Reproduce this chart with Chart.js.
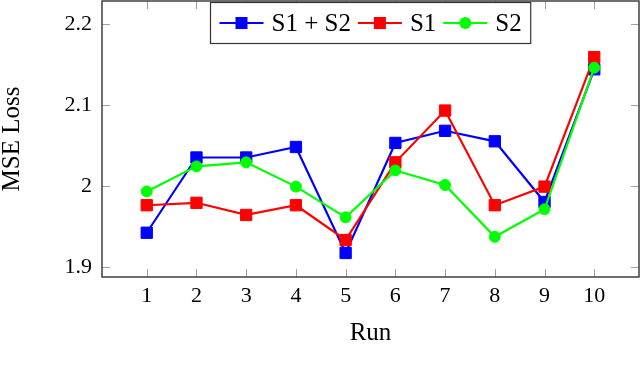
<!DOCTYPE html>
<html>
<head>
<meta charset="utf-8">
<script src="https://cdn.jsdelivr.net/npm/chart.js@4.4.1/dist/chart.umd.min.js"></script>
<style>
  html, body { margin: 0; padding: 0; background: #fff; }
  #wrap { width: 640px; height: 372px; }
</style>
</head>
<body>
<div id="wrap"><canvas id="lossChart" width="640" height="372"></canvas></div>
<script>
// values
const runs = [1, 2, 3, 4, 5, 6, 7, 8, 9, 10];
const lossS1S2 = [1.942, 2.035, 2.035, 2.048, 1.917, 2.053, 2.068, 2.055, 1.980, 2.144];
const lossS1 = [1.976, 1.979, 1.964, 1.976, 1.933, 2.029, 2.093, 1.976, 1.999, 2.159];
const lossS2 = [1.993, 2.024, 2.029, 1.999, 1.961, 2.019, 2.001, 1.937, 1.971, 2.146];
const yTicks = [1.9, 2, 2.1, 2.2];
const yTickLabels = ['1.9', '2', '2.1', '2.2'];
const seriesNames = ['S1 + S2', 'S1', 'S2'];

const serif = '"Liberation Serif", "DejaVu Serif", serif';

function toPoints(vals) {
    return runs.map((r, i) => ({ x: r, y: vals[i] }));
}

// frame, inward tick marks
const framePlugin = {
    id: 'frame',
    beforeDatasetsDraw(chart) {
        const { ctx, chartArea: a, scales } = chart;
        ctx.save();
        ctx.strokeStyle = '#a0a0a0';
        ctx.lineWidth = 1;
        ctx.beginPath();
        runs.forEach(v => {
            const x = Math.round(scales.x.getPixelForValue(v)) + 0.5;
            ctx.moveTo(x, a.bottom); ctx.lineTo(x, a.bottom - 8);
            ctx.moveTo(x, a.top); ctx.lineTo(x, a.top + 8);
        });
        yTicks.forEach(v => {
            const y = Math.round(scales.y.getPixelForValue(v)) + 0.5;
            ctx.moveTo(a.left, y); ctx.lineTo(a.left + 8, y);
            ctx.moveTo(a.right, y); ctx.lineTo(a.right - 8, y);
        });
        ctx.stroke();
        ctx.restore();
    },
    afterDraw(chart) {
        const { ctx, chartArea: a } = chart;
        ctx.save();
        ctx.strokeStyle = '#333';
        ctx.lineWidth = 1.4;
        ctx.strokeRect(a.left, a.top, a.right - a.left, a.bottom - a.top);
        ctx.restore();
    }
};

// pgfplots-like legend box at top centre, inside the plot
const legendPlugin = {
    id: 'boxLegend',
    afterDraw(chart) {
        const { ctx, chartArea: a } = chart;
        const ds = chart.data.datasets;
        ctx.save();
        ctx.font = '25px ' + serif;
        const iconW = 44, gapIcon = 8, gapItem = 7, padX = 9;
        let total = padX * 2;
        ds.forEach((d, i) => {
            total += iconW + gapIcon + ctx.measureText(d.label).width;
            if (i < ds.length - 1) total += gapItem;
        });
        const left = Math.round((a.left + a.right) / 2 - total / 2) + 0.5;
        const top = 2.5, h = 41, cy = top + h / 2;
        ctx.fillStyle = '#fff';
        ctx.fillRect(left, top, total, h);
        ctx.strokeStyle = '#333';
        ctx.lineWidth = 1.2;
        ctx.strokeRect(left, top, total, h);
        let x = left + padX;
        ds.forEach(d => {
            ctx.strokeStyle = d.borderColor;
            ctx.fillStyle = d.backgroundColor;
            ctx.lineWidth = 2.2;
            ctx.beginPath(); ctx.moveTo(x, cy); ctx.lineTo(x + iconW, cy); ctx.stroke();
            if (d.pointStyle === 'rect') {
                ctx.fillRect(x + iconW / 2 - 6, cy - 6, 12, 12);
            } else {
                ctx.beginPath(); ctx.arc(x + iconW / 2, cy, 6, 0, Math.PI * 2); ctx.fill();
            }
            x += iconW + gapIcon;
            ctx.fillStyle = '#000';
            ctx.textBaseline = 'middle';
            ctx.fillText(d.label, x, cy + 1);
            x += ctx.measureText(d.label).width + gapItem;
        });
        ctx.restore();
    }
};

const ctx = document.getElementById('lossChart').getContext('2d');
const lossChart = new Chart(ctx, {
    type: 'scatter',
    data: {
        datasets: [
            {
                label: seriesNames[0],
                data: toPoints(lossS1S2),
                borderColor: '#0000ff',
                backgroundColor: '#0000ff',
                pointStyle: 'rect',
                order: 3
            },
            {
                label: seriesNames[1],
                data: toPoints(lossS1),
                borderColor: '#ff0000',
                backgroundColor: '#ff0000',
                pointStyle: 'rect',
                order: 2
            },
            {
                label: seriesNames[2],
                data: toPoints(lossS2),
                borderColor: '#00ff00',
                backgroundColor: '#00ff00',
                pointStyle: 'circle',
                pointRadius: 5.5,
                order: 1
            }
        ]
    },
    options: {
        responsive: false,
        animation: false,
        showLine: true,
        layout: { autoPadding: false, padding: { top: 1, right: 1, left: 0, bottom: 0 } },
        elements: {
            line: { borderWidth: 2.2, tension: 0 },
            point: { radius: 8, borderWidth: 1, hoverRadius: 8 }
        },
        scales: {
            x: {
                type: 'linear',
                min: 0.1,
                max: 10.9,
                afterBuildTicks: s => { s.ticks = runs.map(v => ({ value: v })); },
                afterFit: s => { s.height = 95; s.paddingLeft = 0; s.paddingRight = 0; },
                grid: { display: false, drawTicks: false },
                border: { display: false },
                ticks: {
                    color: '#000',
                    font: { family: serif, size: 22 },
                    padding: 6,
                    maxRotation: 0,
                    autoSkip: false,
                    callback: v => String(v)
                },
                title: {
                    display: true,
                    text: 'Run',
                    color: '#000',
                    font: { family: serif, size: 25 },
                    padding: { top: 0, bottom: 24 }
                }
            },
            y: {
                type: 'linear',
                min: 1.8873,
                max: 2.2284,
                afterBuildTicks: s => { s.ticks = yTicks.map(v => ({ value: v })); },
                afterFit: s => { s.width = 102; s.paddingTop = 0; s.paddingBottom = 0; },
                grid: { display: false, drawTicks: false },
                border: { display: false },
                ticks: {
                    color: '#000',
                    font: { family: serif, size: 22 },
                    padding: 10,
                    callback: (v, i) => yTickLabels[i]
                },
                title: {
                    display: true,
                    text: 'MSE Loss',
                    color: '#000',
                    font: { family: serif, size: 25, lineHeight: 1 },
                    padding: { top: 0, bottom: 0 }
                }
            }
        },
        plugins: {
            tooltip: { enabled: false },
            legend: { display: false }
        }
    },
    plugins: [framePlugin, legendPlugin]
});
</script>
</body>
</html>
